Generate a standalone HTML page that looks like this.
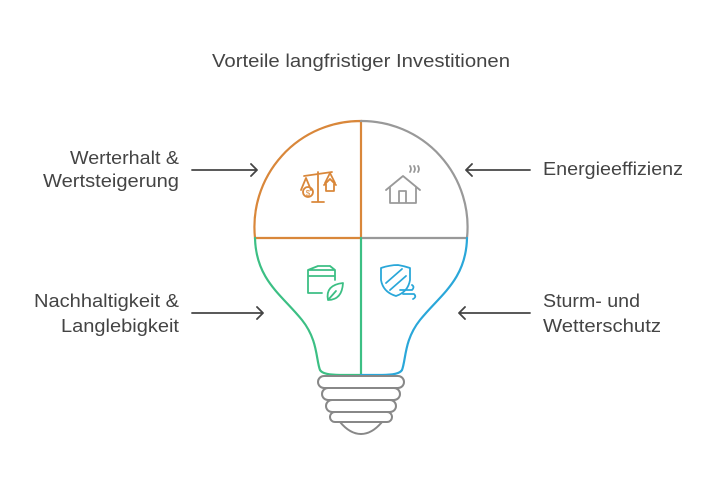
<!DOCTYPE html>
<html><head><meta charset="utf-8"><style>
body{margin:0;background:#fff;}
.t{font-family:"Liberation Sans",sans-serif;fill:#444;font-size:18px;}
</style></head><body>
<svg width="710" height="485" viewBox="0 0 710 485" xmlns="http://www.w3.org/2000/svg">
<text class="t" x="212" y="67" textLength="298" lengthAdjust="spacingAndGlyphs">Vorteile langfristiger Investitionen</text>
<g fill="none" stroke-width="2.2" stroke-linecap="round">
<path d="M255,238 A106,106 0 0 1 361,121 L361,238 Z" stroke="#d9873a"/>
<path d="M361,121 A106,106 0 0 1 467,238 L361,238" stroke="#999"/>
<path d="M255,238 C256,280 282,295 302,320 C318,340 316,360 320,370 Q323,375 340,375 L361,375 L361,238" stroke="#3cbf84"/>
<path d="M467,238 C466,280 440,295 420,320 C404,340 406,360 402,370 Q399,375 382,375 L361,375" stroke="#2aa7d9"/>
</g>
<g fill="none" stroke="#888" stroke-width="2">
<rect x="318" y="376" width="86" height="12" rx="6"/>
<rect x="322" y="388" width="78" height="12" rx="6"/>
<rect x="326" y="400" width="70" height="12" rx="6"/>
<rect x="330" y="412" width="62" height="10" rx="5"/>
<path d="M340,422 Q350,434 361,434 Q372,434 382,422"/>
</g>
<g fill="none" stroke="#d9873a" stroke-width="1.8" stroke-linecap="round" stroke-linejoin="round">
<path d="M318,172 L318,202 M312,202 L324,202 M304,176 L332,172"/>
<path d="M306,178 L301,190 M306,178 L311,190"/>
<circle cx="308" cy="192" r="5"/>
<path d="M330,173 L325,183 M330,173 L335,183"/>
<path d="M324,185 L330,179 L336,185 M326,184 L326,191 L334,191 L334,184"/>
</g>
<text x="308" y="196" font-size="8" fill="#d9873a" text-anchor="middle" font-family="Liberation Sans">$</text>
<g fill="none" stroke="#999" stroke-width="1.8" stroke-linecap="round" stroke-linejoin="round">
<path d="M386,190 L403,176 L420,190 M390,187 L390,203 L416,203 L416,187 M399,203 L399,191 L406,191 L406,203"/>
<path d="M410,172 q2,-3 0,-6 M414,172 q2,-3 0,-6 M418,172 q2,-3 0,-6"/>
</g>
<g fill="none" stroke="#3cbf84" stroke-width="1.8" stroke-linecap="round" stroke-linejoin="round">
<path d="M322,293 L308,293 L308,270 L335,270 L335,280 M308,276 L335,276 M318,266 L330,266 M318,266 L308,270 M330,266 L335,270"/>
<path d="M328,300 Q325,285 343,283 Q342,300 328,300 Z M328,300 L336,291"/>
</g>
<g fill="none" stroke="#2aa7d9" stroke-width="1.8" stroke-linecap="round" stroke-linejoin="round">
<path d="M381,268 Q390,265 398,265 Q404,266 410,268 L410,280 Q408,292 396,296 Q383,292 381,280 Z"/>
<path d="M386,283 L402,269 M390,290 L406,276"/>
<path d="M400,290 L412,290 Q415,287 412,285 M403,294 L414,294 Q417,297 413,299"/>
</g>
<g fill="none" stroke="#444" stroke-width="1.8" stroke-linecap="round" stroke-linejoin="round">
<path d="M192,170 L257,170 M251,164 L257,170 L251,176"/>
<path d="M192,313 L263,313 M257,307 L263,313 L257,319"/>
<path d="M530,170 L466,170 M472,164 L466,170 L472,176"/>
<path d="M530,313 L459,313 M465,307 L459,313 L465,319"/>
</g>
<text class="t" x="70" y="164" textLength="109" lengthAdjust="spacingAndGlyphs">Werterhalt &amp;</text>
<text class="t" x="43" y="187" textLength="136" lengthAdjust="spacingAndGlyphs">Wertsteigerung</text>
<text class="t" x="34" y="307" textLength="145" lengthAdjust="spacingAndGlyphs">Nachhaltigkeit &amp;</text>
<text class="t" x="61" y="332" textLength="118" lengthAdjust="spacingAndGlyphs">Langlebigkeit</text>
<text class="t" x="543" y="175" textLength="140" lengthAdjust="spacingAndGlyphs">Energieeffizienz</text>
<text class="t" x="543" y="307" textLength="97" lengthAdjust="spacingAndGlyphs">Sturm- und</text>
<text class="t" x="543" y="332" textLength="118" lengthAdjust="spacingAndGlyphs">Wetterschutz</text>
</svg>
</body></html>
